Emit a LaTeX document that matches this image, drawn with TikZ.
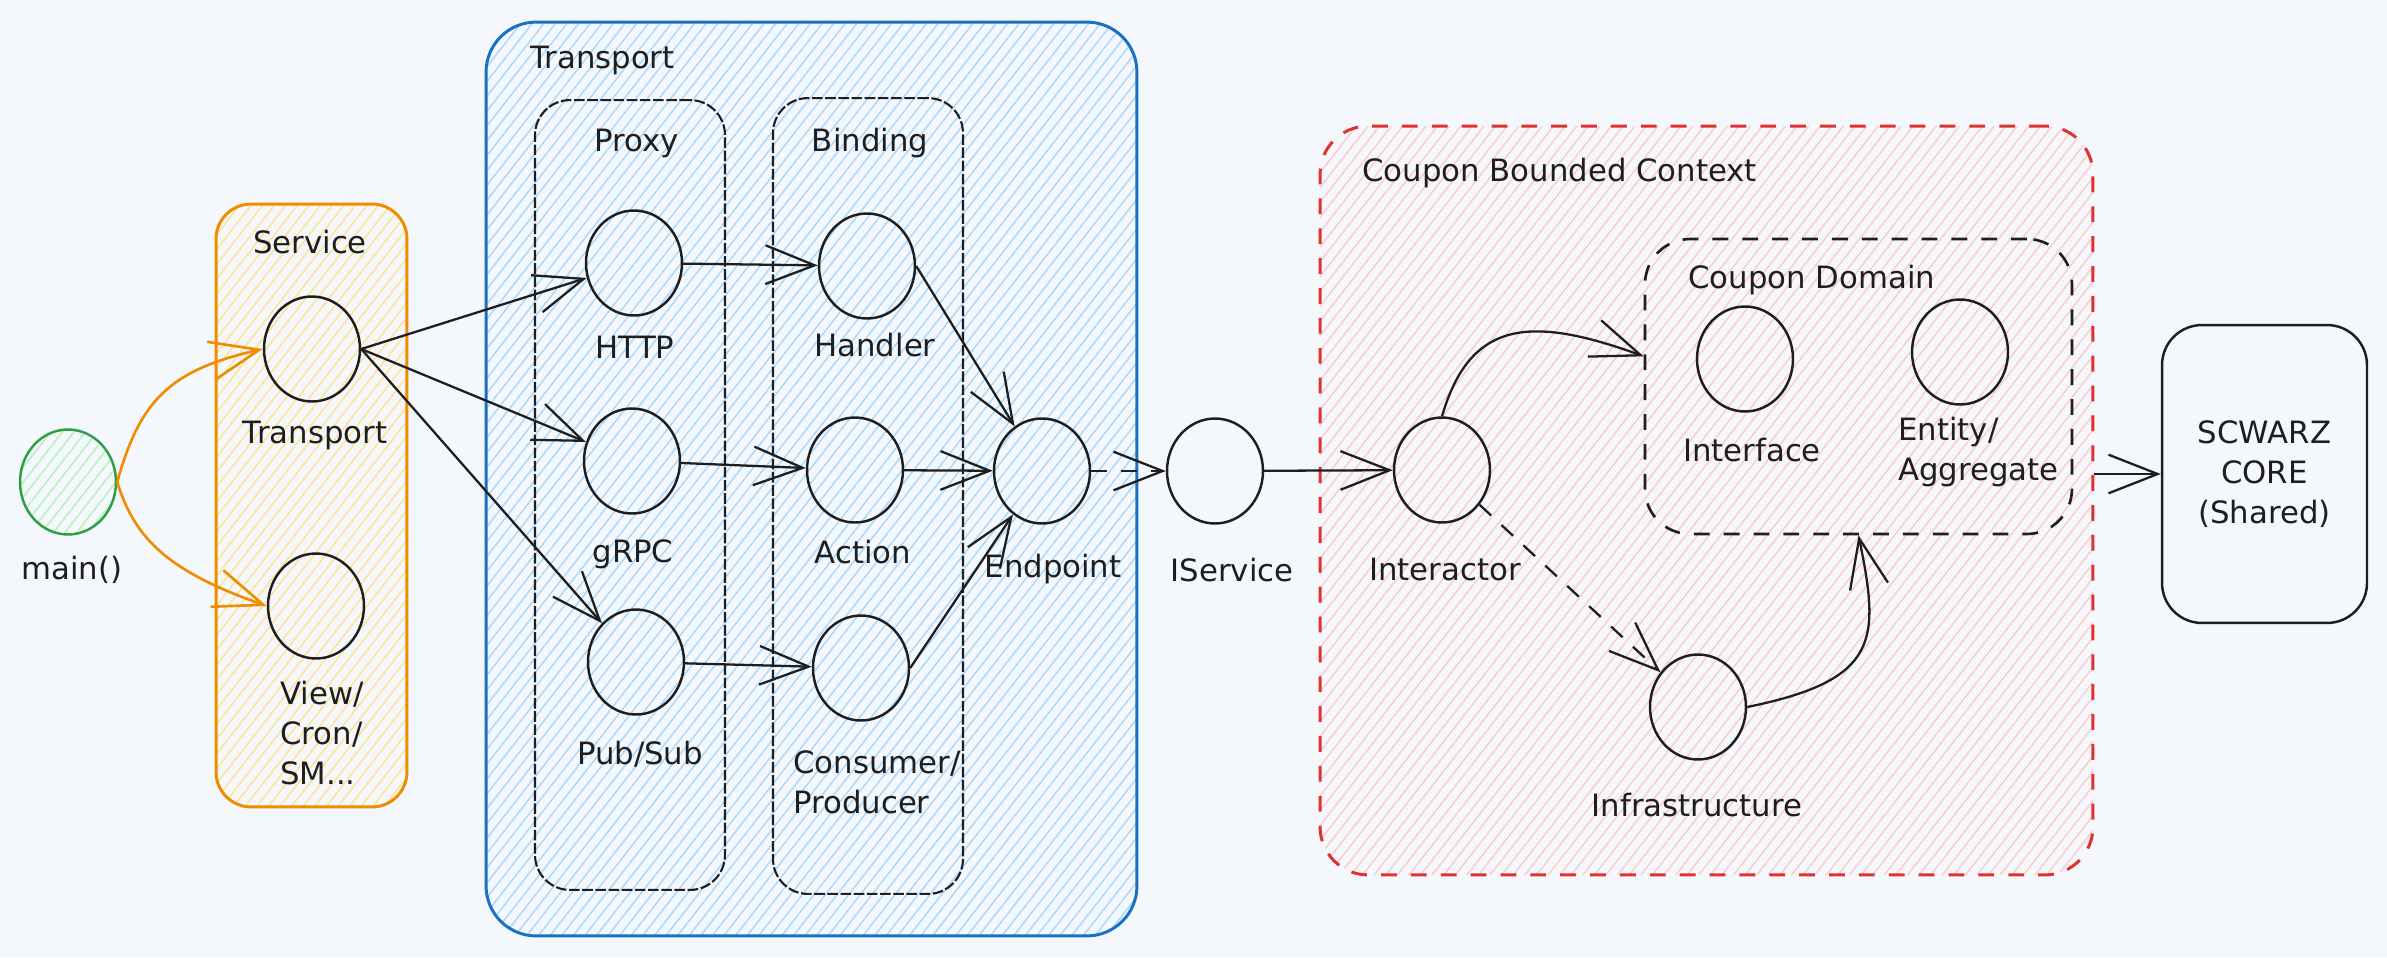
\documentclass[tikz,border=0pt]{standalone}
\usepackage{fontspec}
\setmainfont{DejaVu Sans}
\usetikzlibrary{arrows.meta,shapes.geometric,patterns.meta,calc}
\definecolor{bg}{HTML}{F4F8FC}
\definecolor{ink}{HTML}{1E1E1E}
\definecolor{orangeS}{HTML}{F08C00}
\definecolor{yellowH}{HTML}{FFE38A}
\definecolor{blueS}{HTML}{1971C2}
\definecolor{blueH}{HTML}{A5D8FF}
\definecolor{redS}{HTML}{E03131}
\definecolor{redH}{HTML}{FFC9C9}
\definecolor{greenS}{HTML}{2F9E44}
\definecolor{greenH}{HTML}{B2F2BB}
\begin{document}
\begin{tikzpicture}[x=0.02cm,y=-0.02cm,
  font={\fontsize{17.5}{22.7}\selectfont},
  hatch/.style={pattern={Lines[angle=52,distance=5.2pt,line width=0.8pt]}, pattern color=#1},
  bubble/.style={ellipse, draw=ink, line width=1.4pt, minimum width=1.92cm, minimum height=2.1cm, inner sep=0pt},
  lbl/.style={inner sep=0pt, text=ink},
  mlbl/.style={lbl, align=left, anchor=west},
  arr/.style={draw=ink, line width=1.3pt, -{Straight Barb[length=28pt,width=22pt]}},
  oarr/.style={arr, draw=orangeS, line width=1.5pt},
  dasharr/.style={arr, dash pattern=on 9pt off 8pt},
  container/.style={rectangle, inner sep=0pt}
]
\useasboundingbox (0,0) rectangle (2387,957);
\fill[bg] (0,0) rectangle (2387,957);

% containers
\node[container, draw=orangeS, line width=1.7pt, rounded corners=0.7cm, minimum width=3.82cm, minimum height=12.06cm, hatch=yellowH] (svc) at (311.5,505.5) {};
\node[container, draw=blueS, line width=1.7pt, rounded corners=1.0cm, minimum width=13.02cm, minimum height=18.28cm, hatch=blueH] (trans) at (811.5,479) {};
\node[container, draw=ink, line width=1.2pt, dash pattern=on 6pt off 1.5pt, rounded corners=0.7cm, minimum width=3.8cm, minimum height=15.8cm] (proxy) at (630,495) {};
\node[container, draw=ink, line width=1.2pt, dash pattern=on 6pt off 1.5pt, rounded corners=0.7cm, minimum width=3.8cm, minimum height=15.92cm] (binding) at (868,496) {};
\node[container, draw=redS, line width=1.7pt, dash pattern=on 9pt off 8pt, rounded corners=0.96cm, minimum width=15.46cm, minimum height=14.98cm, hatch=redH] (red) at (1706.5,500.5) {};
\node[container, draw=ink, line width=1.5pt, dash pattern=on 9pt off 8pt, rounded corners=0.9cm, minimum width=8.54cm, minimum height=5.9cm] (domain) at (1858.5,386.5) {};
\node[container, draw=ink, line width=1.4pt, rounded corners=0.8cm, minimum width=4.1cm, minimum height=5.96cm, align=center, text=ink] (core) at (2264.5,474) {SCWARZ\\CORE\\(Shared)};

% bubbles
\node[bubble, draw=greenS, hatch=greenH] (main) at (68,482) {};
\node[bubble] (tsvc) at (312,349) {};
\node[bubble] (view) at (316,606) {};
\node[bubble] (http) at (634,263) {};
\node[bubble] (grpc) at (632,461) {};
\node[bubble] (pubsub) at (636,662) {};
\node[bubble] (handler) at (867,266) {};
\node[bubble] (action) at (855,470) {};
\node[bubble] (consumer) at (861,668) {};
\node[bubble] (endpoint) at (1042,471) {};
\node[bubble] (iservice) at (1215,471) {};
\node[bubble] (interactor) at (1442,470) {};
\node[bubble] (interface) at (1745,359) {};
\node[bubble] (entity) at (1960,352) {};
\node[bubble] (infra) at (1698,707) {};

% connectors
\draw[oarr] (main.east) .. controls (140,400) and (170,370) .. (tsvc.west);
\draw[oarr] (main.east) .. controls (135,540) and (170,572) .. (view.west);
\draw[arr] (tsvc.east) -- (http);
\draw[arr] (tsvc.east) -- (grpc);
\draw[arr] (tsvc.east) -- (pubsub);
\draw[arr] (http) -- (handler);
\draw[arr] (grpc) -- (action);
\draw[arr] (pubsub) -- (consumer);
\draw[arr] (handler.east) -- (endpoint);
\draw[arr] (action) -- (endpoint);
\draw[arr] (consumer.east) -- (endpoint);
\draw[dasharr] (endpoint) -- (iservice);
\draw[arr] (iservice) -- (interactor);
\draw[arr] (interactor.north) .. controls (1470,320) and (1530,315) .. (domain.172);
\draw[dasharr] (interactor) -- (infra);
\draw[arr] (infra.east) .. controls (1880,680) and (1880,640) .. (domain.south);
\draw[arr] (core.west -| red.east) -- (core.west);

% labels
\node[lbl] (lservice) at (310,242) {Service};
\node[lbl] (ltsvc) at (315,435) {Transport};
\node[mlbl] (lview) at (280,733) {View/\\Cron/\\SM...};
\node[lbl] (lmain) at (72,570) {main()};
\node[lbl, anchor=west] (ltrans) at (530,60) {Transport};
\node[lbl] (lproxy) at (637,143) {Proxy};
\node[lbl] (lbinding) at (870,143) {Binding};
\node[lbl] (lhttp) at (635,347) {HTTP};
\node[lbl] (lhandler) at (875,345) {Handler};
\node[lbl] (lgrpc) at (633,554) {gRPC};
\node[lbl] (laction) at (863,552) {Action};
\node[lbl] (lpubsub) at (640,754) {Pub/Sub};
\node[mlbl] (lconsumer) at (793,782) {Consumer/\\Producer};
\node[lbl] (lendpoint) at (1053,569) {Endpoint};
\node[lbl] (liservice) at (1232,570) {IService};
\node[lbl] (linteractor) at (1445,570) {Interactor};
\node[lbl, anchor=west] (lred) at (1362,173) {Coupon Bounded Context};
\node[lbl, anchor=west] (ldomain) at (1688,280) {Coupon Domain};
\node[lbl] (linterface) at (1752,450) {Interface};
\node[mlbl] (lentity) at (1898,452) {Entity/\\Aggregate};
\node[lbl] (linfra) at (1697,805) {Infrastructure};
\end{tikzpicture}
\end{document}
